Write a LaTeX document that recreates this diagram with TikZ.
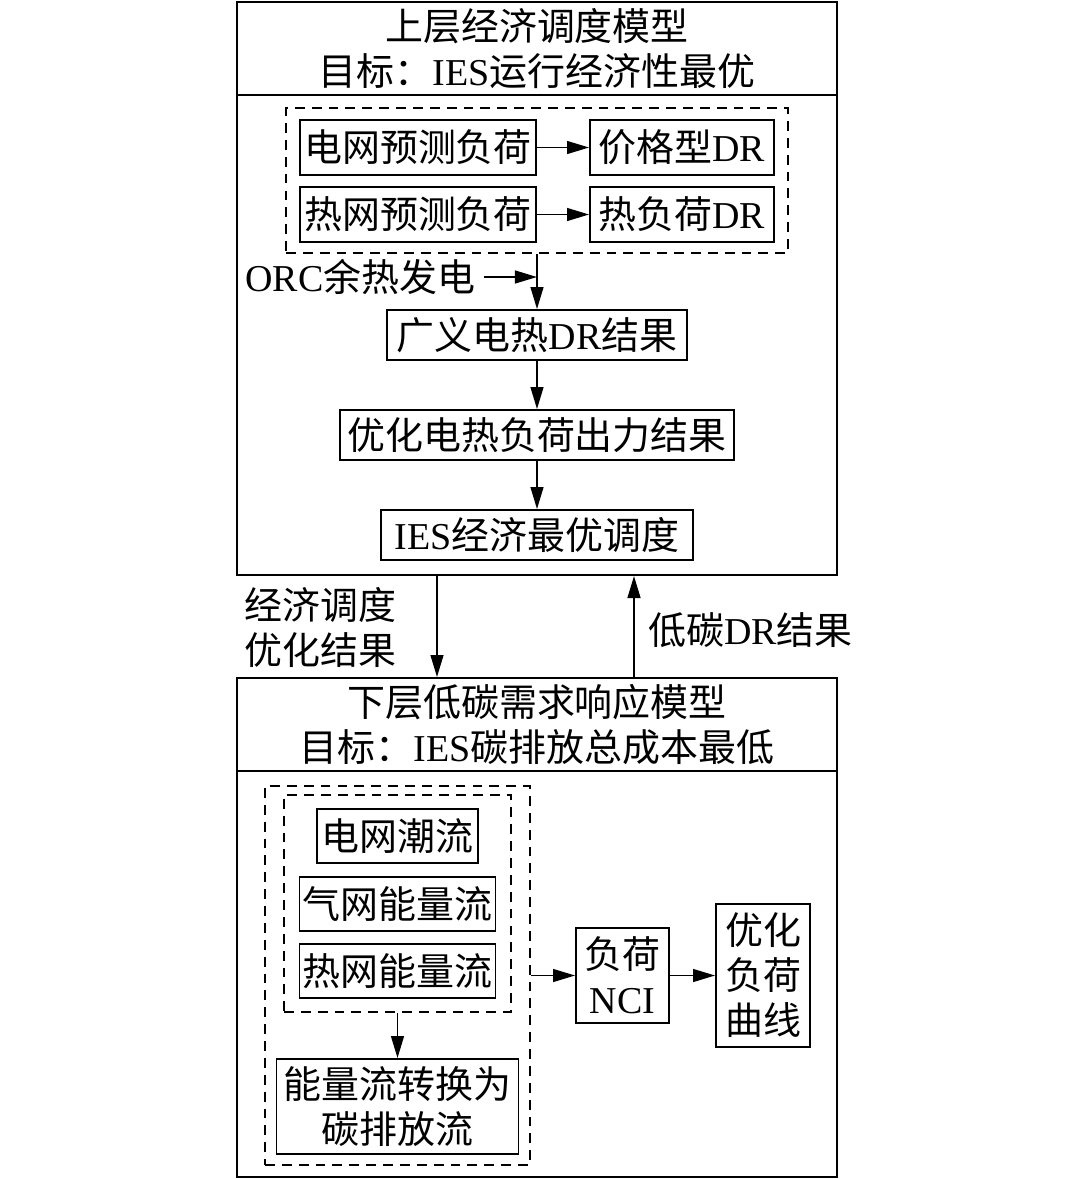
\documentclass[tikz,border=0pt]{standalone}
\usepackage{fontspec}
\setmainfont{Liberation Serif}
\newfontfamily\cjkfont{Noto Sans CJK SC}
\newcommand{\zw}[1]{{\cjkfont #1}}
\usetikzlibrary{arrows.meta, positioning, calc}

\begin{document}
\begin{tikzpicture}[x=0.025cm, y=-0.025cm,
   every node/.style={font=\fontsize{27}{32}\selectfont},
   box/.style={draw, line width=1.3pt, inner sep=0pt, align=center},
   dbox/.style={draw, line width=1.3pt, dash pattern=on 7pt off 5pt, inner sep=0pt},
   arr/.style={-{Triangle[length=0.55cm, width=0.32cm]}, line width=1.3pt}]
   \useasboundingbox (0,0) rectangle (1080,1179);
   % upper layer
   \node[box, minimum width=15cm, minimum height=14.325cm] (upper) at (537,288.5) {};
   \coordinate (ud) at (0,95);
   \draw[line width=1.3pt] (upper.west |- ud) -- (upper.east |- ud);
   \node[align=center, inner sep=0pt] (utitle) at (537,48.5) {\zw{上层经济调度模型}\\\zw{目标：}IES\zw{运行经济性最优}};
   \node[dbox, minimum width=12.55cm, minimum height=3.625cm] (d1) at (537,180.5) {};
   \node[box, minimum width=5.9cm, minimum height=1.375cm] (egrid) at (418,147.5) {\zw{电网预测负荷}};
   \node[box, minimum width=4.6cm, minimum height=1.375cm] (pdr) at (682,147.5) {\zw{价格型}DR};
   \node[box, minimum width=5.9cm, minimum height=1.375cm] (hgrid) at (418,214.5) {\zw{热网预测负荷}};
   \node[box, minimum width=4.6cm, minimum height=1.375cm] (hdr) at (682,214.5) {\zw{热负荷}DR};
   \draw[arr] (egrid) -- (pdr);
   \draw[arr] (hgrid) -- (hdr);
   \node[anchor=west, inner sep=0pt] (orc) at (245,277) {ORC\zw{余热发电}};
   \node[box, minimum width=7.5cm, minimum height=1.25cm] (gdr) at (537,335) {\zw{广义电热}DR\zw{结果}};
   \node[box, minimum width=9.85cm, minimum height=1.25cm] (opt) at (537,435) {\zw{优化电热负荷出力结果}};
   \node[box, minimum width=7.8cm, minimum height=1.25cm] (ies) at (537,535) {IES\zw{经济最优调度}};
   \draw[arr] ([xshift=0.2cm]orc.east) -- (orc.east -| d1.south);
   \draw[arr] (d1.south) -- (gdr.north);
   \draw[arr] (gdr) -- (opt);
   \draw[arr] (opt) -- (ies);
   % lower layer
   \node[box, minimum width=15cm, minimum height=12.475cm] (lower) at (537,927.5) {};
   \coordinate (ld) at (0,771);
   \draw[line width=1.3pt] (lower.west |- ld) -- (lower.east |- ld);
   \node[align=center, inner sep=0pt] (ltitle) at (537,725) {\zw{下层低碳需求响应模型}\\\zw{目标：}IES\zw{碳排放总成本最低}};
   % links between layers
   \coordinate (dn) at (437,0);
   \coordinate (up) at (634,0);
   \draw[arr] (upper.south -| dn) -- (lower.north -| dn);
   \draw[arr] (lower.north -| up) -- (upper.south -| up);
   \node[anchor=west, align=left, inner sep=0pt] (res) at (244,627.5) {\zw{经济调度}\\\zw{优化结果}};
   \node[anchor=west, inner sep=0pt] (lcdr) at (648,630) {\zw{低碳}DR\zw{结果}};
   \node[dbox, minimum width=6.625cm, minimum height=9.475cm] (d2) at (397.5,975.5) {};
   \node[dbox, minimum width=5.675cm, minimum height=5.425cm] (d3) at (397.5,903.5) {};
   \node[box, minimum width=4.025cm, minimum height=1.35cm] (pflow) at (397.5,836) {\zw{电网潮流}};
   \node[box, minimum width=4.9cm, minimum height=1.35cm] (gflow) at (397.5,904) {\zw{气网能量流}};
   \node[box, minimum width=4.9cm, minimum height=1.35cm] (hflow) at (397.5,971) {\zw{热网能量流}};
   \node[box, minimum width=6.05cm, minimum height=2.375cm] (conv) at (397.5,1106.5) {\zw{能量流转换为}\\\zw{碳排放流}};
   \node[box, minimum width=2.325cm, minimum height=2.375cm] (nci) at (622.5,975.5) {\zw{负荷}\\NCI};
   \node[box, minimum width=2.35cm, minimum height=3.575cm] (curve) at (763,975.5) {\zw{优化}\\\zw{负荷}\\\zw{曲线}};
   \draw[arr] (d3.south) -- (conv.north);
   \draw[arr] (d2.east |- nci.west) -- (nci.west);
   \draw[arr] (nci) -- (curve);
\end{tikzpicture}
\end{document}
